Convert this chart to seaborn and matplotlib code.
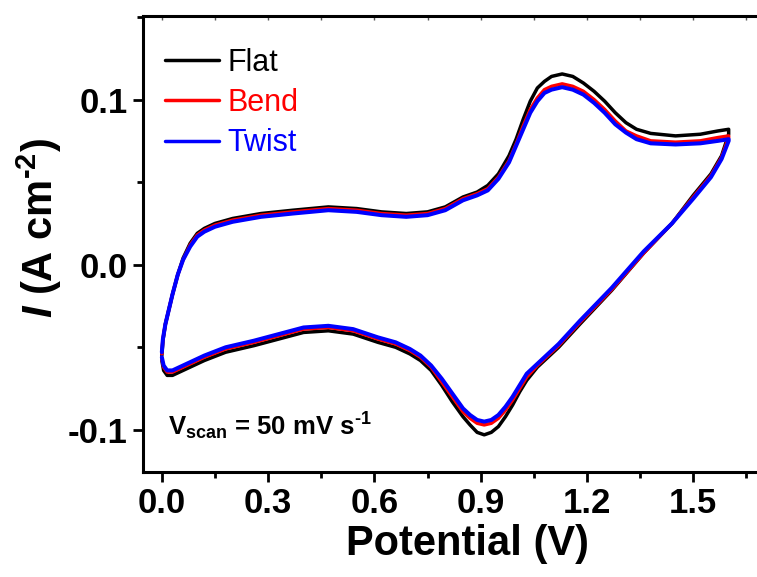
import numpy as np
import pandas as pd
import matplotlib
matplotlib.use("Agg")
import matplotlib.pyplot as plt
from matplotlib.ticker import MultipleLocator, FormatStrFormatter
import seaborn as sns

# Potential sweep (forward 0 -> 1.6 V, then back to 0 V)
potential = [0.000, 0.003, 0.010, 0.020, 0.030, 0.045, 0.060, 0.080, 0.100, 0.120, 0.150,
             0.200, 0.280, 0.370, 0.470, 0.550, 0.620, 0.690, 0.750, 0.800, 0.850, 0.890,
             0.920, 0.950, 0.980, 1.000, 1.020, 1.040, 1.060, 1.080, 1.100, 1.130, 1.160,
             1.190, 1.220, 1.250, 1.280, 1.310, 1.340, 1.380, 1.450, 1.520, 1.570, 1.600,
             # reverse scan
             1.600, 1.580, 1.550, 1.500, 1.440, 1.360, 1.270, 1.180, 1.120, 1.090, 1.060,
             1.030, 1.010, 0.990, 0.970, 0.950, 0.930, 0.910, 0.890, 0.870, 0.850, 0.820,
             0.790, 0.760, 0.730, 0.700, 0.660, 0.610, 0.540, 0.470, 0.400, 0.330, 0.260,
             0.180, 0.120, 0.080, 0.050, 0.030, 0.015, 0.005, 0.000]

flat = [-0.055, -0.046, -0.036, -0.027, -0.018, -0.006, 0.004, 0.013, 0.019, 0.022, 0.025,
        0.028, 0.031, 0.033, 0.035, 0.034, 0.032, 0.031, 0.032, 0.035, 0.041, 0.044,
        0.048, 0.055, 0.066, 0.076, 0.088, 0.099, 0.107, 0.111, 0.114, 0.1155, 0.114,
        0.110, 0.105, 0.099, 0.092, 0.086, 0.082, 0.0795, 0.078, 0.079, 0.081, 0.082,
        0.079, 0.066, 0.055, 0.042, 0.025, 0.007, -0.0155, -0.036, -0.050, -0.056, -0.062,
        -0.070, -0.077, -0.085, -0.092, -0.098, -0.1015, -0.103, -0.1015, -0.097, -0.092, -0.083,
        -0.073, -0.064, -0.058, -0.054, -0.050, -0.047, -0.042, -0.040, -0.041, -0.045, -0.049,
        -0.053, -0.058, -0.062, -0.065, -0.067, -0.067, -0.064, -0.058]

bend = [-0.054, -0.045, -0.036, -0.027, -0.018, -0.006, 0.003, 0.012, 0.018, 0.021, 0.024,
        0.027, 0.030, 0.032, 0.034, 0.033, 0.031, 0.030, 0.031, 0.034, 0.040, 0.043,
        0.046, 0.053, 0.063, 0.073, 0.084, 0.094, 0.101, 0.106, 0.108, 0.1095, 0.108,
        0.105, 0.100, 0.094, 0.087, 0.081, 0.078, 0.075, 0.0742, 0.075, 0.077, 0.078,
        0.077, 0.065, 0.054, 0.041, 0.025, 0.007, -0.015, -0.035, -0.049, -0.055, -0.061,
        -0.068, -0.075, -0.082, -0.088, -0.093, -0.096, -0.097, -0.096, -0.093, -0.089, -0.080,
        -0.071, -0.062, -0.056, -0.052, -0.048, -0.045, -0.040, -0.038, -0.039, -0.043, -0.047,
        -0.051, -0.056, -0.060, -0.063, -0.065, -0.065, -0.062, -0.057]

twist = [-0.053, -0.045, -0.036, -0.027, -0.018, -0.006, 0.003, 0.011, 0.017, 0.020, 0.023,
         0.026, 0.029, 0.031, 0.033, 0.032, 0.030, 0.029, 0.030, 0.033, 0.039, 0.042,
         0.045, 0.052, 0.062, 0.072, 0.082, 0.092, 0.099, 0.104, 0.106, 0.1075, 0.106,
         0.103, 0.098, 0.092, 0.085, 0.080, 0.076, 0.0735, 0.0728, 0.0735, 0.075, 0.076,
         0.075, 0.064, 0.053, 0.040, 0.025, 0.008, -0.014, -0.034, -0.048, -0.054, -0.060,
         -0.066, -0.073, -0.080, -0.086, -0.091, -0.094, -0.095, -0.094, -0.091, -0.087, -0.078,
         -0.069, -0.061, -0.055, -0.051, -0.047, -0.044, -0.039, -0.037, -0.038, -0.042, -0.046,
         -0.050, -0.055, -0.059, -0.062, -0.064, -0.064, -0.061, -0.056]

samples = ["Flat", "Bend", "Twist"]
colors = ["black", "red", "blue"]

df = pd.concat([
    pd.DataFrame({"potential": potential, "current": cur, "sample": name})
    for name, cur in zip(samples, [flat, bend, twist])
], ignore_index=True)

sns.set_style("ticks")
plt.rcParams["font.family"] = ["Liberation Sans", "DejaVu Sans"]
plt.rcParams["mathtext.fontset"] = "custom"
plt.rcParams["mathtext.rm"] = "Liberation Sans:bold"
plt.rcParams["mathtext.bf"] = "Liberation Sans:bold"
plt.rcParams["mathtext.it"] = "Liberation Sans:italic:bold"
plt.rcParams["axes.unicode_minus"] = False
for key in ["text.color", "axes.labelcolor", "xtick.color", "ytick.color", "axes.edgecolor"]:
    plt.rcParams[key] = "black"

fig = plt.figure(figsize=(7.57, 5.77), dpi=100)
ax = fig.add_axes([0.189, 0.182, 0.811, 0.790])

widths = {"Flat": 2.5, "Bend": 2.5, "Twist": 2.9}
for name, col in zip(samples, colors):
    sub = df[df["sample"] == name]
    sns.lineplot(data=sub, x="potential", y="current", sort=False, estimator=None,
                 color=col, linewidth=widths[name], label=name, ax=ax)

ax.set_xlim(-0.053, 1.68)
ax.set_ylim(-0.1255, 0.1505)
ax.xaxis.set_major_locator(MultipleLocator(0.3))
ax.xaxis.set_minor_locator(MultipleLocator(0.15))
ax.yaxis.set_major_locator(MultipleLocator(0.1))
ax.yaxis.set_minor_locator(MultipleLocator(0.05))
ax.xaxis.set_major_formatter(FormatStrFormatter("%.1f"))
ax.yaxis.set_major_formatter(FormatStrFormatter("%.1f"))

for side in ["left", "bottom", "top"]:
    ax.spines[side].set_linewidth(2.2)
ax.spines["right"].set_visible(False)

ax.tick_params(which="major", direction="out", length=7, width=2, labelsize=25, pad=4)
ax.tick_params(which="minor", direction="out", length=4, width=2)
for lab in ax.get_xticklabels() + ax.get_yticklabels():
    lab.set_fontweight("bold")

# small inward ticks along the top spine
sec = ax.secondary_xaxis("top")
sec.xaxis.set_major_locator(MultipleLocator(0.3))
sec.xaxis.set_minor_locator(MultipleLocator(0.15))
sec.tick_params(which="both", direction="in", length=3, width=1, color="#555555", labeltop=False)
sec.spines["top"].set_visible(False)

ax.set_xlabel("Potential (V)", fontsize=30, fontweight="bold")
ax.xaxis.set_label_coords(0.528, -0.115)
ax.set_ylabel(r"$\mathit{I}$ (A cm$^{\text{-}2}$)", fontsize=30, fontweight="bold")
ax.yaxis.set_label_coords(-0.128, 0.535)

ax.text(0.04, 0.081, r"V$_{\mathrm{scan}}$ = 50 mV s$^{\text{-}1}$", transform=ax.transAxes,
        fontsize=18.5, fontweight="bold", ha="left", va="baseline")

leg = ax.legend(loc="upper left", bbox_to_anchor=(0.036, 0.93), frameon=False,
                fontsize=22, handlelength=1.75, handletextpad=0.3, labelspacing=0.33,
                borderaxespad=0, borderpad=0)
for text, col in zip(leg.get_texts(), colors):
    text.set_color(col)
for line in leg.get_lines():
    line.set_linewidth(2.5)

fig.savefig("out.png", dpi=100)
